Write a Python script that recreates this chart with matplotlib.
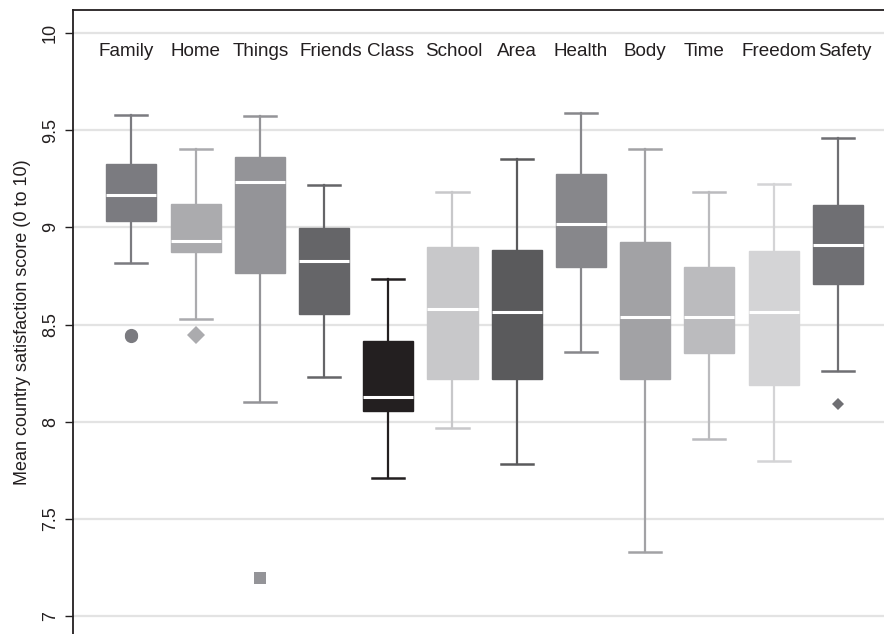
import matplotlib
matplotlib.use("Agg")
import matplotlib.pyplot as plt

plt.rcParams['font.family'] = ['Liberation Sans', 'DejaVu Sans']

# Summary statistics per life domain (country means, 0 to 10 scale)
domains = ["Family", "Home", "Things", "Friends", "Class", "School",
           "Area", "Health", "Body", "Time", "Freedom", "Safety"]
whisker_low = [8.816, 8.527, 8.101, 8.229, 7.711, 7.965,
               7.780, 8.360, 7.330, 7.909, 7.795, 8.263]
quartile_1 = [9.033, 8.871, 8.765, 8.552, 8.057, 8.222,
              8.222, 8.795, 8.222, 8.351, 8.190, 8.711]
medians = [9.167, 8.931, 9.233, 8.828, 8.127, 8.579,
           8.563, 9.019, 8.540, 8.541, 8.562, 8.907]
quartile_3 = [9.325, 9.122, 9.362, 8.995, 8.414, 8.898,
              8.885, 9.277, 8.926, 8.795, 8.881, 9.117]
whisker_high = [9.580, 9.406, 9.573, 9.216, 8.735, 9.180,
                9.354, 9.589, 9.404, 9.180, 9.222, 9.459]
outliers = [[8.440, 8.446], [8.448], [7.197], [], [], [],
            [], [], [], [], [], [8.093]]

box_colors = ["#7b7b80", "#ababae", "#949498", "#656568", "#231f20", "#c8c8ca",
              "#5a5a5c", "#87878b", "#a2a2a5", "#bbbbbe", "#d4d4d6", "#6f6f73"]
outlier_markers = ["o", "D", "s", None, None, None,
                   None, None, None, None, None, "D"]
outlier_sizes = [9.5, 9, 8.5, 0, 0, 0, 0, 0, 0, 0, 0, 6.5]
# horizontal nudges (in box units) so the header names do not crowd each other
label_shift = [-0.08, 0.0, 0.02, 0.11, 0.04, 0.02,
               0.0, 0.0, 0.0, -0.09, 0.08, 0.11]

fig = plt.figure(figsize=(8.84, 6.34), dpi=100)
ax = fig.add_axes([73 / 884, 0, 1 - 73 / 884, 624 / 634])

positions = list(range(1, len(domains) + 1))
for i, pos in enumerate(positions):
    stats = [{
        "whislo": whisker_low[i], "q1": quartile_1[i], "med": medians[i],
        "q3": quartile_3[i], "whishi": whisker_high[i], "fliers": [],
        "label": domains[i],
    }]
    c = box_colors[i]
    ax.bxp(stats, positions=[pos], widths=0.78, capwidths=0.5,
           patch_artist=True, showfliers=False,
           boxprops=dict(facecolor=c, edgecolor=c, linewidth=1),
           whiskerprops=dict(color=c, linewidth=1.6),
           capprops=dict(color=c, linewidth=1.8),
           medianprops=dict(color="white", linewidth=2.2),
           zorder=3)
    if outliers[i]:
        ax.plot([pos] * len(outliers[i]), outliers[i],
                linestyle="none", marker=outlier_markers[i],
                markersize=outlier_sizes[i], color=c,
                markeredgewidth=0, zorder=3)
    ax.text(pos + label_shift[i], 9.905, domains[i], ha="center", va="center",
            fontsize=13.6, color="#231f20")

ax.set_xlim(0.09, 12.72)
ax.set_ylim(6.907, 10.119)
ax.set_yticks([7, 7.5, 8, 8.5, 9, 9.5, 10])
ax.set_yticklabels(["7", "7.5", "8", "8.5", "9", "9.5", "10"],
                   rotation=90, va="center", fontsize=13)
ax.set_xticks([])
ax.yaxis.grid(True, color="#e3e3e3", linewidth=1.6, zorder=0)
ax.set_axisbelow(True)
ax.tick_params(axis="y", length=6, width=1, color="#231f20", pad=4,
               labelcolor="#231f20")
for side in ["bottom", "right"]:
    ax.spines[side].set_visible(False)
for side in ["left", "top"]:
    ax.spines[side].set_color("#231f20")
    ax.spines[side].set_linewidth(1.3)

ax.set_ylabel("Mean country satisfaction score (0 to 10)", fontsize=13,
              color="#231f20", labelpad=8)

fig.savefig("out.png", dpi=100)
